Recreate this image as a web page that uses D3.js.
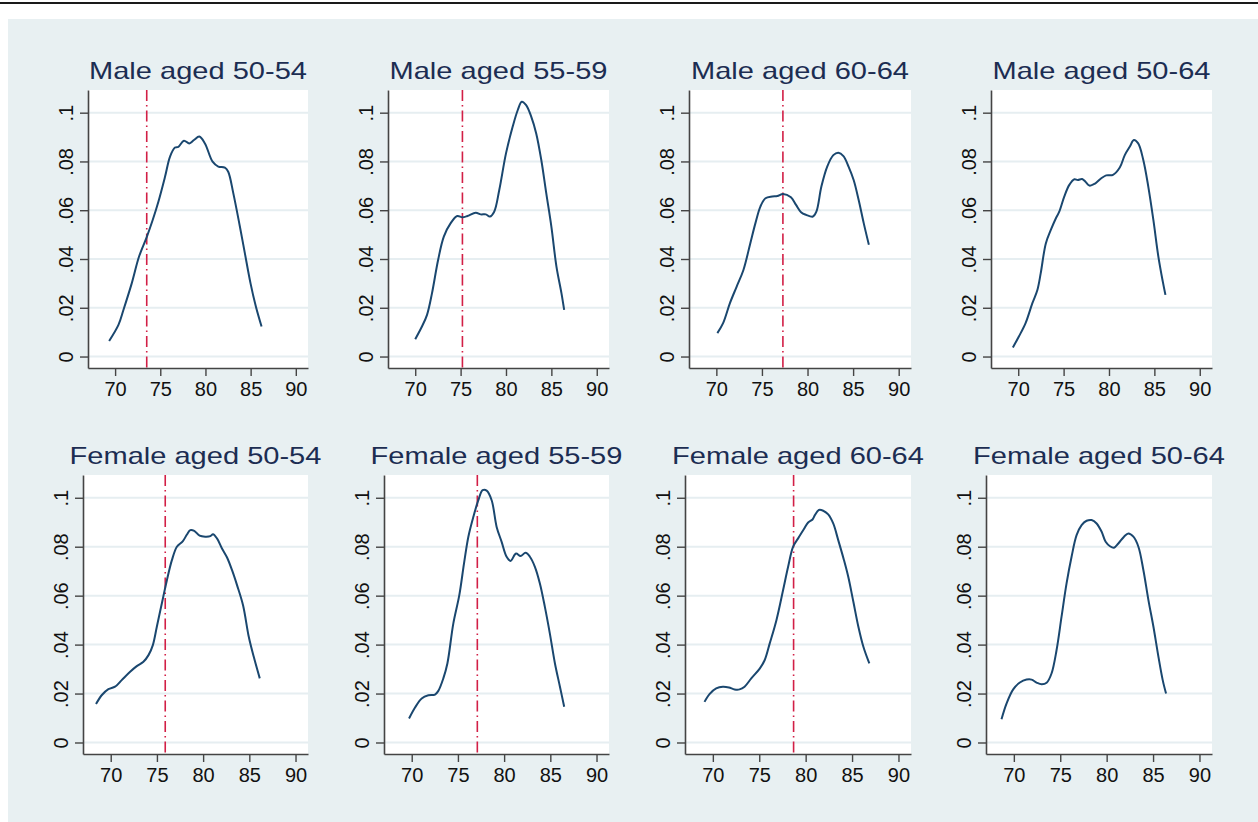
<!DOCTYPE html>
<html>
<head>
<meta charset="utf-8">
<script src="https://cdn.jsdelivr.net/npm/d3@7"></script>
<style>
  body { margin: 0; background: #fff; }
  text { font-family: "Liberation Sans", Arial, sans-serif; }
</style>
</head>
<body>
<script>
// tick values and labels
const xTicks = [70, 75, 80, 85, 90];
const yTicks = [0, 0.02, 0.04, 0.06, 0.08, 0.1];
const yTickLabels = ['0', '.02', '.04', '.06', '.08', '.1'];

const titles = ['Male aged 50-54', 'Male aged 55-59', 'Male aged 60-64', 'Male aged 50-64',
  'Female aged 50-54', 'Female aged 55-59', 'Female aged 60-64', 'Female aged 50-64'];

// red dash-dot reference line (age) per panel, null = none
const refAge = [73.5, 75.2, 77.3, null, 75.9, 77.1, 78.7, null];

// density curves, [age, density]
const male5054 = [[69.34,0.0064],[70.37,0.013],[70.92,0.0191],[71.84,0.030],[72.65,0.041],[73.5,0.049],
  [74.16,0.056],[74.79,0.0635],[75.53,0.0738],[76.08,0.082],[76.63,0.0857],[77.0,0.086],[77.62,0.0885],
  [78.21,0.0874],[78.73,0.0888],[79.32,0.0902],[79.94,0.0874],[80.79,0.0799],[81.42,0.0779],[82.15,0.0775],
  [82.52,0.0758],[83.08,0.067],[83.81,0.0533],[84.36,0.0424],[84.99,0.030],[85.58,0.0205],[86.21,0.0123]];
const male5559 = [[70.0,0.0071],[70.74,0.0123],[71.3,0.0171],[71.85,0.026],[72.52,0.0396],[73.15,0.0492],
  [73.89,0.0546],[74.63,0.0576],[75.19,0.0571],[75.74,0.0576],[76.67,0.059],[77.22,0.0583],[77.78,0.0583],
  [78.22,0.0574],[78.7,0.0594],[79.26,0.0683],[80.0,0.0833],[80.74,0.0943],[81.3,0.1011],[81.74,0.1045],
  [82.22,0.1031],[82.78,0.0984],[83.33,0.0915],[83.89,0.0806],[84.44,0.0669],[85.0,0.0533],[85.56,0.0369],
  [86.11,0.026],[86.41,0.0191]];
const male6064 = [[70.11,0.0096],[70.74,0.0137],[71.49,0.0219],[72.23,0.0287],[72.97,0.0355],[73.72,0.0464],
  [74.28,0.0546],[74.83,0.0615],[75.39,0.0649],[76.13,0.0656],[76.69,0.0658],[77.32,0.0667],[78.18,0.0653],
  [78.74,0.0622],[79.29,0.0592],[79.85,0.0581],[80.59,0.0574],[80.97,0.0594],[81.52,0.0697],[82.16,0.0779],
  [82.83,0.0826],[83.38,0.0836],[83.94,0.0822],[84.5,0.0779],[85.06,0.0724],[85.61,0.0642],[86.17,0.0546],
  [86.73,0.0458]];
const male5064 = [[69.41,0.0037],[70.07,0.0082],[70.81,0.0137],[71.56,0.0219],[72.11,0.0273],[72.48,0.0342],
  [73.04,0.0464],[73.59,0.0519],[74.15,0.0567],[74.52,0.0594],[75.07,0.0656],[75.63,0.0704],[76.19,0.0727],
  [76.56,0.0724],[77.04,0.0728],[77.41,0.0717],[77.85,0.0701],[78.41,0.0708],[79.15,0.0731],[79.7,0.0743],
  [80.44,0.0745],[81.19,0.0775],[81.74,0.0826],[82.3,0.0861],[82.74,0.0888],[83.22,0.0874],[83.78,0.0806],
  [84.33,0.0697],[84.89,0.056],[85.44,0.041],[85.93,0.0307],[86.22,0.0253]];
const female5054 = [[68.41,0.0157],[69.02,0.0193],[69.75,0.0218],[70.47,0.0228],[71.19,0.0255],[72.1,0.0289],
  [72.82,0.0312],[73.54,0.033],[74.09,0.0357],[74.56,0.0398],[74.99,0.0473],[75.53,0.0568],[76.08,0.0663],
  [76.62,0.0745],[77.16,0.08],[77.81,0.0823],[78.25,0.085],[78.61,0.0868],[79.04,0.0865],[79.62,0.0845],
  [80.24,0.0841],[80.78,0.0843],[81.07,0.0851],[81.5,0.0834],[82.04,0.0793],[82.59,0.0756],[83.13,0.0704],
  [83.67,0.0643],[84.32,0.0561],[84.94,0.0432],[85.48,0.035],[86.13,0.0262]];
const female5559 = [[69.71,0.0098],[70.36,0.0143],[71.08,0.018],[71.8,0.0193],[72.52,0.0196],[72.88,0.0211],
  [73.42,0.0262],[73.86,0.0323],[74.5,0.0486],[75.15,0.0602],[75.66,0.0732],[76.13,0.0841],[76.67,0.0922],
  [77.21,0.099],[77.68,0.1031],[78.11,0.1029],[78.65,0.099],[79.19,0.0881],[79.73,0.082],[80.27,0.0759],
  [80.7,0.0742],[81.28,0.0772],[81.78,0.0762],[82.32,0.0775],[82.79,0.0759],[83.33,0.0718],[83.87,0.065],
  [84.41,0.0554],[84.95,0.0445],[85.5,0.0323],[86.04,0.0228],[86.5,0.0146]];
const female6064 = [[69.1,0.0166],[69.64,0.0198],[70.36,0.0221],[71.08,0.0228],[71.73,0.0225],[72.34,0.0217],
  [72.88,0.0217],[73.42,0.0228],[74.14,0.0262],[75.05,0.0302],[75.59,0.0337],[76.13,0.0405],[76.85,0.05],
  [77.57,0.0623],[78.11,0.0718],[78.65,0.08],[79.19,0.0834],[79.8,0.0871],[80.27,0.0899],[80.74,0.0911],
  [80.99,0.0929],[81.42,0.095],[81.89,0.0947],[82.43,0.0932],[82.97,0.0895],[83.51,0.0827],[84.13,0.0745],
  [84.59,0.0677],[85.14,0.0575],[85.68,0.0473],[86.22,0.0391],[86.86,0.0323]];
const female5064 = [[68.67,0.0095],[69.21,0.0159],[69.93,0.0217],[70.65,0.0245],[71.37,0.0257],[71.91,0.0257],
  [72.45,0.0245],[72.99,0.0238],[73.53,0.0244],[74.06,0.0282],[74.6,0.0377],[75.14,0.0514],[75.68,0.065],
  [76.22,0.0759],[76.76,0.0847],[77.3,0.0888],[77.84,0.0906],[78.38,0.0909],[78.92,0.0895],[79.46,0.0861],
  [79.89,0.082],[80.36,0.0802],[80.79,0.0796],[81.26,0.0813],[81.87,0.0841],[82.34,0.0854],[82.88,0.0841],
  [83.42,0.08],[83.96,0.0704],[84.5,0.0582],[85.04,0.0473],[85.58,0.035],[86.04,0.0255],[86.4,0.02]];

const series = [male5054, male5559, male6064, male5064, female5054, female5559, female6064, female5064];

const W = 1258, H = 822;
const svg = d3.select('body').append('svg')
  .attr('width', W)
  .attr('height', H);

svg.append('rect').attr('x', 8).attr('y', 19).attr('width', W - 8).attr('height', H - 19)
  .attr('fill', '#e8f0f2');
svg.append('line').attr('x1', 0).attr('x2', W).attr('y1', 3).attr('y2', 3)
  .attr('stroke', '#1a1a1a').attr('stroke-width', 2);

// plot region boxes
const lefts = [88, 388, 689, 991, 83, 384, 685, 986];
const rights = [308, 609, 911, 1212, 308, 609, 911, 1212];
const tops = [90, 475];
const bottoms = [368, 754];
const titleY = [79, 464];

series.forEach((data, i) => {
  const row = i < 4 ? 0 : 1;
  const x0 = lefts[i], x1 = rights[i], y0 = tops[row], y1 = bottoms[row];

  const x = d3.scaleLinear().domain([67, 91.35]).range([x0, x1]);
  const y = d3.scaleLinear().domain([-0.0047, 0.1093]).range([y1, y0]);

  const g = svg.append('g');

  g.append('rect').attr('x', x0).attr('y', y0).attr('width', x1 - x0).attr('height', y1 - y0)
    .attr('fill', '#fff');

  // grid
  g.selectAll('.grid').data(yTicks).enter().append('line')
    .attr('x1', x0).attr('x2', x1)
    .attr('y1', d => y(d)).attr('y2', d => y(d))
    .attr('stroke', '#e6eef1').attr('stroke-width', 2);

  // reference line
  if (refAge[i] != null) {
    g.append('line')
      .attr('x1', x(refAge[i])).attr('x2', x(refAge[i]))
      .attr('y1', y0).attr('y2', y1)
      .attr('stroke', '#d21f46').attr('stroke-width', 1.6)
      .attr('stroke-dasharray', '11,4,1.5,4');
  }

  g.append('path').datum(data)
    .attr('fill', 'none')
    .attr('stroke', '#1a476f')
    .attr('stroke-width', 2)
    .attr('d', d3.line().x(d => x(d[0])).y(d => y(d[1])).curve(d3.curveCatmullRom));

  const yAxis = g.append('g')
    .attr('transform', `translate(${x0},0)`)
    .call(d3.axisLeft(y).tickValues(yTicks).tickSize(8).tickSizeOuter(0)
      .tickFormat((d, k) => yTickLabels[k]));
  yAxis.selectAll('text')
    .attr('x', null).attr('dy', null)
    .attr('text-anchor', 'middle')
    .attr('transform', 'translate(-15,0) rotate(-90)');

  const xAxis = g.append('g')
    .attr('transform', `translate(0,${y1})`)
    .call(d3.axisBottom(x).tickValues(xTicks).tickSize(8).tickPadding(6).tickSizeOuter(0));

  [xAxis, yAxis].forEach(a => {
    a.selectAll('text').attr('font-size', 20).attr('fill', '#111')
      .style('font-family', '"Liberation Sans", Arial, sans-serif');
    a.selectAll('line').attr('stroke', '#444').attr('stroke-width', 1.4);
    a.select('.domain').attr('stroke', '#444').attr('stroke-width', 1.6);
  });

  const t = g.append('text')
    .attr('x', (x0 + x1) / 2)
    .attr('y', titleY[row])
    .attr('text-anchor', 'middle')
    .attr('font-size', 24)
    .attr('fill', '#1c2d52')
    .text(titles[i]);
  t.attr('textLength', t.node().getComputedTextLength() * 1.21)
    .attr('lengthAdjust', 'spacingAndGlyphs');
});
</script>
</body>
</html>
